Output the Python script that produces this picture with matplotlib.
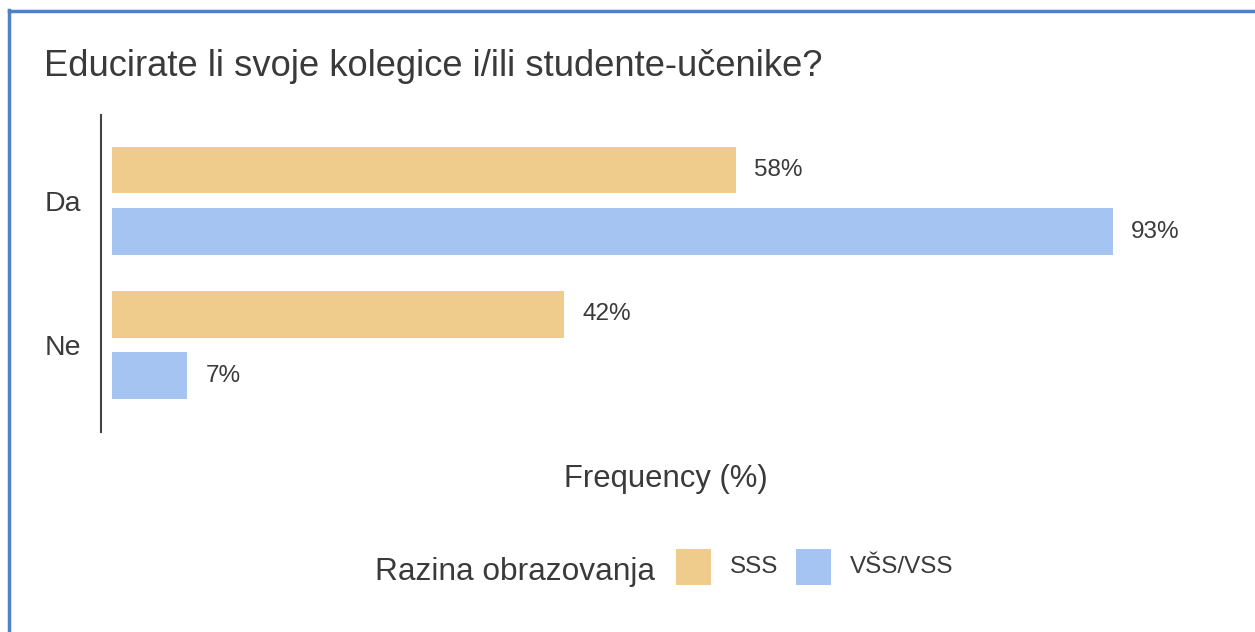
import matplotlib.pyplot as plt
import numpy as np
from matplotlib.patches import Rectangle
from matplotlib.lines import Line2D

plt.rcParams["font.family"] = ["Liberation Sans", "DejaVu Sans"]

odgovori = ["Da", "Ne"]
sss = [58, 42]
vss = [93, 7]
serije = ["SSS", "VŠS/VSS"]
boje = ["#EFCC8C", "#A6C4F2"]
tekst = "#3A3A3A"

W, H = 1255, 632
fig = plt.figure(figsize=(W / 100, H / 100), dpi=100)
ax = fig.add_axes([101 / W, 200 / H, 1087 / W, 317 / H])


def fx(px):
    return px / W


def fy(py):
    return 1 - py / H


y = np.arange(len(odgovori))
h = 0.32
off = 0.212
b1 = ax.barh(y - off, sss, height=h, color=boje[0])
b2 = ax.barh(y + off, vss, height=h, color=boje[1])

for bars in (b1, b2):
    for r in bars:
        w = r.get_width()
        ax.text(w + 1.7, r.get_y() + r.get_height() / 2, f"{w:.0f}%",
                va="center", ha="left", fontsize=17.5, color=tekst)

ax.set_xlim(-1.0, 100)
ax.set_ylim(1.604, -0.597)
ax.set_yticks(y)
ax.set_yticklabels(odgovori, fontsize=20.5, color=tekst)
ax.tick_params(axis="y", length=0, pad=14.5)
ax.set_xticks([])
for s in ["top", "right", "bottom"]:
    ax.spines[s].set_visible(False)
ax.spines["left"].set_color("#444444")
ax.spines["left"].set_linewidth(1.5)

fig.text(fx(666), fy(487), "Frequency (%)", ha="center", va="baseline",
         fontsize=22.3, color=tekst)

fig.text(fx(44), fy(76), "Educirate li svoje kolegice i/ili studente-učenike?",
         ha="left", va="baseline", fontsize=26.2, color=tekst)

# legenda
fig.text(fx(375), fy(580), "Razina obrazovanja", ha="left", va="baseline",
         fontsize=22.8, color=tekst)
for x0, xt, boja, naziv in [(676, 730, boje[0], serije[0]), (796, 850, boje[1], serije[1])]:
    fig.add_artist(Rectangle((fx(x0), fy(585)), 35 / W, 36 / H, transform=fig.transFigure,
                             facecolor=boja, edgecolor="none"))
    fig.text(fx(xt), fy(567), naziv, ha="left", va="center", fontsize=17.5, color=tekst)

# okvir
plava = "#4F81C7"
fig.add_artist(Line2D([fx(9), fx(9)], [0, fy(10)], transform=fig.transFigure,
                      color=plava, linewidth=2.5))
fig.add_artist(Line2D([fx(9), 1], [fy(11), fy(11)], transform=fig.transFigure,
                      color=plava, linewidth=2.5))

fig.savefig("out.png", dpi=100)
